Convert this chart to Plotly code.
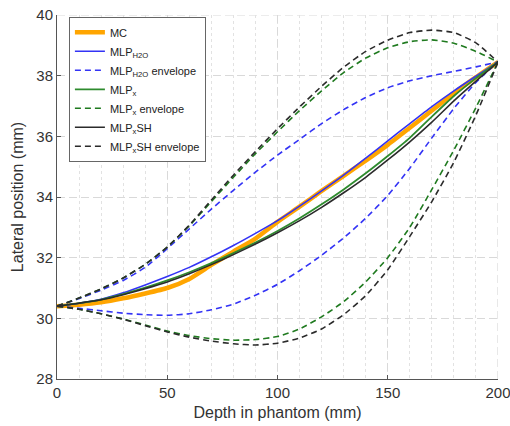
import plotly.graph_objects as go

depth = [0, 10, 20, 30, 40, 50, 60, 70, 80, 90, 100, 110, 120, 130, 140, 150, 160, 170, 180, 190, 200]

mc = [30.4, 30.45, 30.53, 30.66, 30.82, 31.0, 31.3, 31.76, 32.2, 32.63, 33.18, 33.68, 34.2, 34.7, 35.2,
      35.72, 36.28, 36.85, 37.42, 37.95, 38.45]
mlp_h2o = [30.4, 30.5, 30.63, 30.84, 31.1, 31.38, 31.68, 32.03, 32.4, 32.8, 33.22, 33.7, 34.2, 34.72, 35.28,
           35.85, 36.42, 36.98, 37.5, 37.98, 38.45]
mlp_h2o_up = [30.4, 30.65, 30.93, 31.25, 31.68, 32.3, 32.95, 33.6, 34.22, 34.82, 35.38, 35.9, 36.42, 36.88, 37.28,
              37.6, 37.83, 38.0, 38.14, 38.29, 38.45]
mlp_h2o_lo = [30.4, 30.33, 30.25, 30.17, 30.12, 30.1, 30.15, 30.28, 30.47, 30.76, 31.12, 31.57, 32.08, 32.65, 33.3,
              34.05, 34.95, 35.95, 36.92, 37.78, 38.45]
mlp_x = [30.4, 30.5, 30.62, 30.8, 31.01, 31.25, 31.52, 31.82, 32.15, 32.5, 32.88, 33.3, 33.76, 34.25, 34.78,
         35.35, 35.95, 36.65, 37.33, 37.92, 38.45]
mlp_x_up = [30.4, 30.67, 30.97, 31.33, 31.78, 32.35, 33.05, 33.85, 34.65, 35.43, 36.15, 36.85, 37.5, 38.1, 38.58,
            38.92, 39.12, 39.18, 39.07, 38.8, 38.45]
mlp_x_lo = [30.4, 30.3, 30.15, 29.98, 29.78, 29.58, 29.43, 29.33, 29.28, 29.3, 29.4, 29.65, 30.05, 30.55, 31.2,
            32.0, 33.0, 34.25, 35.55, 36.95, 38.45]
mlp_xsh = [30.4, 30.5, 30.61, 30.78, 30.98, 31.2, 31.47, 31.77, 32.1, 32.45, 32.82, 33.22, 33.66, 34.14, 34.65,
           35.22, 35.82, 36.47, 37.17, 37.82, 38.45]
mlp_xsh_up = [30.4, 30.67, 30.97, 31.33, 31.78, 32.35, 33.07, 33.9, 34.72, 35.5, 36.25, 36.97, 37.65, 38.28, 38.8,
              39.17, 39.42, 39.5, 39.42, 39.08, 38.45]
mlp_xsh_lo = [30.4, 30.3, 30.15, 29.97, 29.76, 29.55, 29.38, 29.25, 29.16, 29.12, 29.18, 29.35, 29.65, 30.12, 30.75,
              31.6, 32.7, 33.85, 35.15, 36.7, 38.45]

x_ticks = [0, 50, 100, 150, 200]
y_ticks = [28, 30, 32, 34, 36, 38, 40]

ORANGE = "#FFA500"
BLUE = "#3333F5"
GREEN = "#2E8B2E"
GREEN_D = "#1F7A1F"
BLACK = "#2B2B2B"
DASH = "6px,4px"
GRID = "#D9D9D9"

fig = go.Figure()

def add(y, name, color, width, dash=None, show=True):
    fig.add_trace(go.Scatter(x=depth, y=y, mode="lines", name=name, showlegend=show,
                             line=dict(color=color, width=width, dash=dash, shape="spline", smoothing=0.5)))

add(mc, "MC", ORANGE, 4.5)
add(mlp_h2o, "MLP<sub>H2O</sub>", BLUE, 1.6)
add(mlp_h2o_up, "MLP<sub>H2O</sub> envelope", BLUE, 1.6, DASH)
add(mlp_h2o_lo, "MLP<sub>H2O</sub> envelope", BLUE, 1.6, DASH, False)
add(mlp_x, "MLP<sub>x</sub>", GREEN, 1.8)
add(mlp_x_up, "MLP<sub>x</sub> envelope", GREEN_D, 1.6, DASH)
add(mlp_x_lo, "MLP<sub>x</sub> envelope", GREEN_D, 1.6, DASH, False)
add(mlp_xsh, "MLP<sub>x</sub>SH", BLACK, 1.6)
add(mlp_xsh_up, "MLP<sub>x</sub>SH envelope", BLACK, 1.6, DASH)
add(mlp_xsh_lo, "MLP<sub>x</sub>SH envelope", BLACK, 1.6, DASH, False)

axis_common = dict(
    showline=True, linecolor="#555555", linewidth=1,
    ticks="inside", ticklen=4, tickcolor="#555555",
    showgrid=True, gridcolor=GRID, gridwidth=1.2, griddash="8px,4px",
    zeroline=False, tickfont=dict(size=15, color="#333333"),
    title_font=dict(size=16, color="#333333"), layer="below traces",
    automargin=False,
)

fig.update_xaxes(range=[0, 200], tickvals=x_ticks, title_text="Depth in phantom (mm)",
                 title_standoff=6, ticklabeloverflow="allow",
                 minor=dict(dtick=10, tick0=0, showgrid=True, gridcolor="#E2E2E2", griddash="dot",
                            gridwidth=1, ticks=""),
                 **axis_common)
fig.update_yaxes(range=[28, 40], tickvals=y_ticks, title_text="Lateral position (mm)",
                 title_standoff=8, ticklabeloverflow="allow", **axis_common)

# edge gridlines (top at y=40 and right at x=200)
fig.add_shape(type="line", xref="paper", yref="y", x0=0, x1=1, y0=40, y1=40,
              line=dict(color=GRID, width=1.2, dash="8px,4px"), layer="below")
fig.add_shape(type="line", xref="x", yref="paper", x0=200, x1=200, y0=0, y1=1,
              line=dict(color=GRID, width=1.2, dash="8px,4px"), layer="below")

fig.update_layout(
    width=510, height=426,
    margin=dict(l=57, r=12, t=15, b=47),
    paper_bgcolor="white", plot_bgcolor="white",
    font=dict(family="Liberation Sans, Arial, sans-serif", color="#333333"),
    legend=dict(x=0.027, y=0.995, xanchor="left", yanchor="top",
                bgcolor="white", bordercolor="#666666", borderwidth=1,
                font=dict(size=11, color="#222222"), tracegroupgap=0,
                itemwidth=30),
)

fig.write_html("out.html")
